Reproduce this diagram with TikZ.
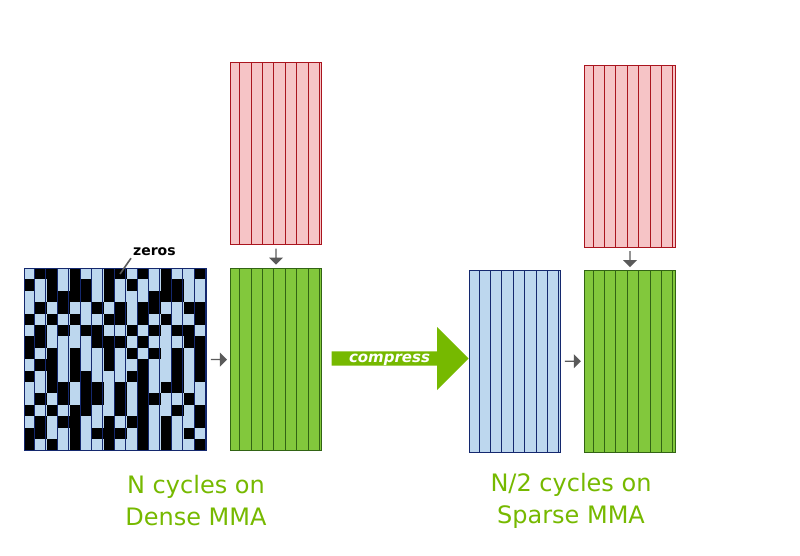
\documentclass[tikz,border=0pt]{standalone}
\usepackage{fontspec}
\setmainfont{DejaVu Sans}
\usetikzlibrary{shapes.arrows,calc}
\definecolor{lblue}{RGB}{189,215,238}
\definecolor{dblue}{RGB}{20,40,110}
\definecolor{lred}{RGB}{246,196,198}
\definecolor{dred}{RGB}{170,20,30}
\definecolor{lgreen}{RGB}{130,200,60}
\definecolor{dgreen}{RGB}{50,100,20}
\definecolor{tgreen}{RGB}{118,185,0}
\definecolor{agray}{RGB}{90,90,90}
\newcommand{\mygrid}[8]{% x y cols rows fill line name cell
  \fill[#5] (#1,#2) rectangle ++(#3*#8,#4*#8);
  \draw[#6,line width=0.6pt] (#1,#2) grid[step=#8] ++(#3*#8,#4*#8);
  \node[inner sep=0,minimum width=#3*#8,minimum height=#4*#8,anchor=north west,draw=#6,line width=0.8pt] (#7) at (#1,#2) {};}
\tikzset{garrow/.style={single arrow,fill=agray,draw=none,inner sep=0,minimum height=16pt,minimum width=14pt,single arrow head extend=2pt,single arrow head indent=0pt},
 lab/.style={text=tgreen,font=\fontsize{24}{32}\selectfont,align=center}}
\begin{document}
\begin{tikzpicture}[x=1pt,y=-1pt]
\useasboundingbox (0,0) rectangle (800,555);
% left sparse matrix
\fill[lblue] (24,268) rectangle (206.4,450.4);
\foreach \s [count=\r from 0] in {
{0,1,1,0,1,0,0,1,1,0,1,0,1,0,0,1},
{1,0,1,0,1,1,0,1,0,1,0,0,1,1,0,0},
{0,0,1,1,1,1,0,1,0,0,0,1,1,1,0,0},
{0,1,0,1,0,0,1,0,1,0,1,1,0,0,1,1},
{1,0,1,0,1,0,0,1,1,0,1,0,1,0,0,1},
{0,1,0,1,0,1,1,0,0,1,0,1,0,1,1,0},
{1,1,0,0,0,0,1,1,1,0,1,0,0,0,1,1},
{1,0,1,0,1,0,0,1,0,1,0,1,0,1,0,1},
{0,1,1,0,1,0,0,1,0,0,1,0,0,1,0,1},
{1,0,1,0,1,1,0,0,0,1,1,0,0,1,0,1},
{0,0,1,1,0,1,1,0,1,0,1,0,1,1,0,0},
{0,1,0,1,0,1,1,0,1,0,1,1,0,0,1,0},
{1,0,1,0,1,1,0,0,1,0,1,0,0,1,0,1},
{0,1,0,1,1,0,0,1,0,1,1,0,1,0,0,1},
{1,1,0,0,1,0,1,1,1,0,1,0,1,0,1,0},
{1,0,1,0,1,0,0,1,0,0,1,0,1,0,0,1}}{
  \foreach \b [count=\c from 0] in \s {
    \ifnum\b=1 \fill[black] (24+\c*11.4,268+\r*11.4) rectangle ++(11.4,11.4);\fi
  }
}
\draw[dblue,line width=0.6pt] (24,268) grid[step=11.4] (206.4,450.4);
\node[inner sep=0,minimum width=182.4,minimum height=182.4,anchor=north west,draw=dblue,line width=0.8pt] (A) at (24,268) {};
% grids
\mygrid{230}{61.6}{8}{16}{lred}{dred}{B1}{11.4}
\mygrid{230}{268}{8}{16}{lgreen}{dgreen}{C1}{11.4}
\mygrid{469}{269.6}{8}{16}{lblue}{dblue}{A2}{11.4}
\mygrid{584}{65}{8}{16}{lred}{dred}{B2}{11.4}
\mygrid{584}{269.6}{8}{16}{lgreen}{dgreen}{C2}{11.4}
% small arrows
\node[garrow,rotate=-90] (d1) at ($(B1.south)!0.5!(C1.north)$) {};
\node[garrow,rotate=-90] (d2) at ($(B2.south)!0.5!(C2.north)$) {};
\node[garrow] (r1) at ($(A.east)!0.5!(C1.west)$) {};
\node[garrow] (r2) at ($(A2.east)!0.5!(C2.west)$) {};
% compress arrow
\node[single arrow,fill=tgreen,draw=none,minimum height=137pt,minimum width=63pt,single arrow head extend=15pt,single arrow head indent=0pt,inner sep=0,text=white,font=\bfseries\itshape\fontsize{15}{18}\selectfont,text depth=0pt,anchor=center] (cmp) at (396.5,358.5) {\hspace*{-14pt}compress};
% zeros
\node[font=\bfseries\fontsize{14}{16}\selectfont,anchor=west,inner sep=0] (z) at (133,252) {zeros};
\coordinate (zt) at (120,274);
\draw[agray,line width=1.6pt] (z.south west) ++(-2,2) coordinate (zs) -- (zt);
% labels
\node[lab] (L1) at (196,501) {N cycles on\\Dense MMA};
\node[lab] (L2) at (571,501) {N/2 cycles on\\Sparse MMA};
\end{tikzpicture}
\end{document}
